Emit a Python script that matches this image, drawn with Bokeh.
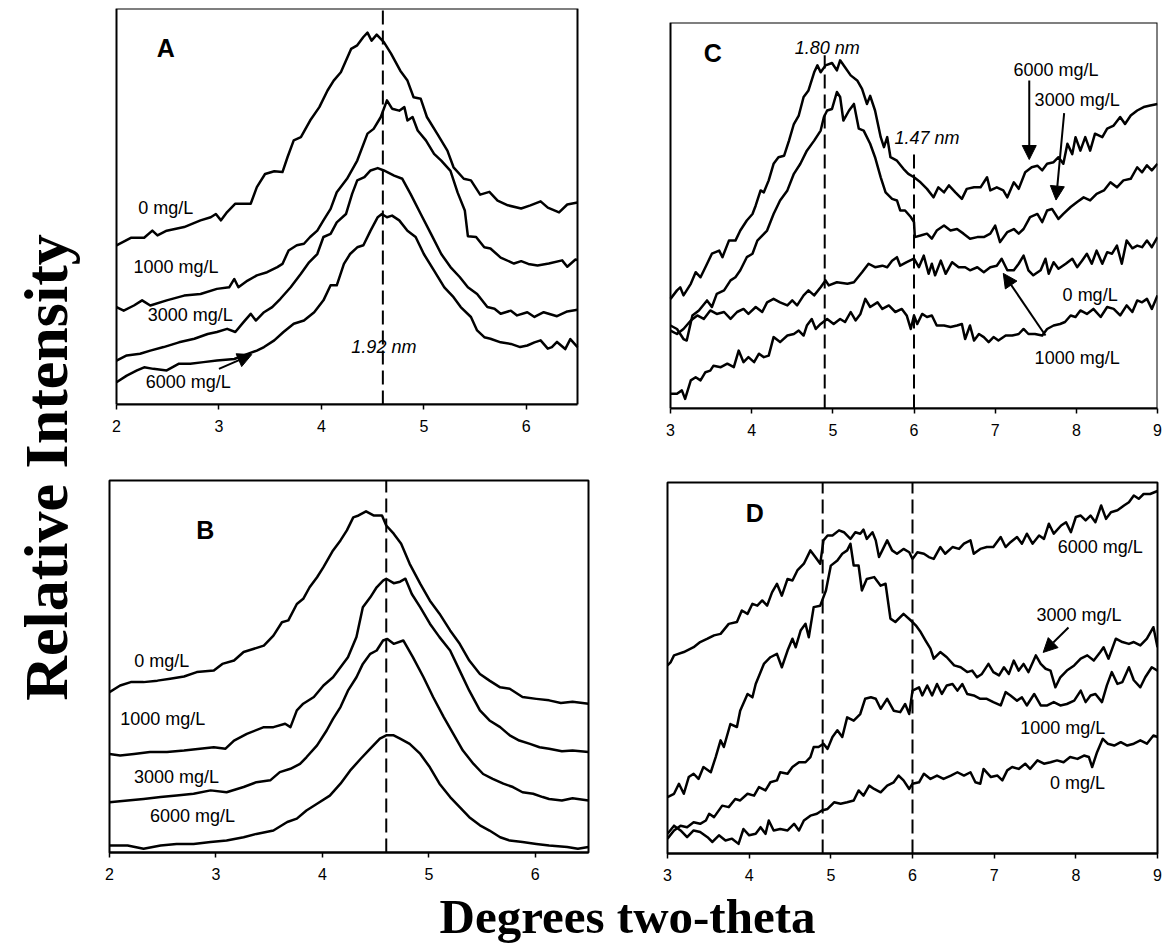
import math
from bokeh.plotting import figure
from bokeh.layouts import row, column
from bokeh.models import Range1d, FixedTicker, Arrow, NormalHead, BoxAnnotation
from bokeh.core.properties import value
from bokeh.embed import file_html
from bokeh.resources import INLINE

# ---------------- data (degrees two-theta, relative intensity 0-100) ----------------
A_0 = [(2.00,40.2),(2.14,42.1),(2.27,42.1),(2.35,43.9),(2.40,42.7),(2.49,43.9),(2.66,44.8),(2.82,46.5),
       (2.92,47.3),(2.97,48.1),(3.02,46.5),(3.08,48.6),(3.16,50.7),(3.31,50.7),(3.37,54.9),(3.45,58.2),
       (3.54,58.9),(3.62,58.7),(3.67,62.5),(3.73,66.7),(3.80,67.5),(3.89,71.7),(3.98,75.1),(4.06,79.3),
       (4.12,81.8),(4.19,83.9),(4.29,89.8),(4.35,90.7),(4.41,92.8),(4.45,93.9),(4.49,91.9),(4.54,93.4),
       (4.61,91.5),(4.68,88.6),(4.77,84.3),(4.84,81.8),(4.90,77.6),(4.97,77.2),(5.03,72.6),(5.13,68.4),
       (5.23,64.1),(5.29,59.9),(5.39,57.0),(5.46,56.6),(5.55,53.0),(5.64,53.7),(5.72,51.5),(5.82,50.3),
       (5.95,49.5),(6.04,50.3),(6.14,51.3),(6.21,49.7),(6.32,48.5),(6.40,50.5),(6.50,51.0)]
A_1000 = [(2.00,24.6),(2.07,23.7),(2.17,25.0),(2.25,26.3),(2.33,25.0),(2.49,26.3),(2.66,27.5),(2.82,27.9),
          (2.98,29.2),(3.10,29.6),(3.15,31.7),(3.19,29.6),(3.28,31.3),(3.37,32.6),(3.47,33.4),(3.57,34.7),
          (3.62,35.5),(3.68,38.9),(3.76,40.2),(3.83,40.6),(3.89,42.3),(3.96,43.9),(4.02,46.5),(4.09,49.4),
          (4.15,53.6),(4.25,57.0),(4.35,61.6),(4.45,68.4),(4.51,69.6),(4.58,72.6),(4.64,76.8),(4.69,74.7),
          (4.76,74.2),(4.81,75.1),(4.84,71.7),(4.89,72.6),(4.94,69.2),(5.02,66.7),(5.10,63.3),(5.17,61.6),
          (5.26,59.0),(5.33,53.5),(5.40,49.0),(5.43,42.5),(5.51,42.3),(5.59,39.7),(5.65,39.4),(5.75,37.1),
          (5.88,35.6),(5.95,36.2),(6.02,35.5),(6.11,35.1),(6.22,35.6),(6.35,36.4),(6.40,34.8),(6.48,36.6),
          (6.50,36.5)]
A_3000 = [(2.00,11.1),(2.10,12.4),(2.23,12.8),(2.33,13.6),(2.46,14.5),(2.61,15.7),(2.76,16.6),(2.89,17.8),
          (2.98,18.3),(3.08,19.1),(3.16,18.3),(3.24,20.8),(3.31,22.9),(3.36,21.2),(3.44,23.3),(3.52,24.6),
          (3.60,26.7),(3.70,29.6),(3.80,33.0),(3.88,35.9),(3.96,38.0),(4.02,42.3),(4.09,43.1),(4.15,46.0),
          (4.24,48.1),(4.30,53.2),(4.35,56.6),(4.42,57.4),(4.48,59.1),(4.55,59.7),(4.61,59.1),(4.71,57.8),
          (4.79,57.0),(4.87,53.2),(4.97,48.1),(5.07,43.1),(5.17,38.0),(5.26,34.7),(5.35,32.2),(5.43,29.6),
          (5.52,27.9),(5.62,24.6),(5.69,24.2),(5.75,22.9),(5.85,23.7),(5.91,22.5),(6.01,23.3),(6.08,22.1),
          (6.17,23.3),(6.30,22.3),(6.40,23.5),(6.50,23.9)]
A_6000 = [(2.00,5.6),(2.10,7.3),(2.20,8.6),(2.27,9.4),(2.36,9.0),(2.49,8.6),(2.61,10.3),(2.72,10.3),
          (2.85,10.7),(2.98,11.1),(3.15,11.5),(3.28,12.8),(3.37,13.6),(3.44,14.5),(3.54,16.2),(3.63,18.3),
          (3.73,20.4),(3.83,21.2),(3.93,23.3),(4.02,26.3),(4.09,30.1),(4.15,30.1),(4.22,35.5),(4.28,38.0),
          (4.35,39.7),(4.41,40.2),(4.48,43.9),(4.55,47.3),(4.59,48.1),(4.64,47.3),(4.69,47.7),(4.76,46.5),
          (4.84,43.9),(4.92,42.3),(5.00,38.0),(5.10,33.8),(5.20,29.6),(5.29,27.1),(5.36,24.6),(5.46,22.1),
          (5.52,18.7),(5.59,17.0),(5.65,16.6),(5.75,15.7),(5.85,15.3),(5.94,14.5),(6.01,14.9),(6.08,15.7),
          (6.14,16.2),(6.21,14.1),(6.25,14.5),(6.30,15.8),(6.38,14.0),(6.43,16.5),(6.50,14.5)]

B_0 = [(2.00,43.1),(2.10,44.9),(2.20,45.8),(2.32,45.8),(2.45,46.2),(2.57,46.7),(2.70,47.3),(2.82,48.5),
       (2.98,48.9),(3.06,50.7),(3.17,51.6),(3.26,53.9),(3.35,54.7),(3.45,55.6),(3.54,58.3),(3.62,61.9),
       (3.68,62.4),(3.76,66.8),(3.82,68.2),(3.88,71.3),(3.95,74.0),(4.01,76.7),(4.10,81.2),(4.17,83.9),
       (4.23,86.6),(4.29,90.1),(4.34,90.6),(4.41,91.7),(4.48,90.6),(4.56,90.6),(4.60,87.9),(4.67,85.7),
       (4.74,83.0),(4.82,77.6),(4.92,72.2),(5.01,67.7),(5.10,64.2),(5.20,59.7),(5.29,56.1),(5.38,51.6),
       (5.48,48.0),(5.57,46.2),(5.67,44.4),(5.76,44.0),(5.88,41.8),(6.01,41.3),(6.13,40.9),(6.24,40.2),
       (6.35,40.5),(6.50,40.0)]
B_1000 = [(2.00,26.5),(2.10,26.1),(2.23,26.5),(2.38,27.0),(2.54,27.0),(2.70,27.4),(2.85,27.9),(2.98,28.3),
          (3.09,27.9),(3.17,30.1),(3.29,31.9),(3.45,33.7),(3.54,33.7),(3.65,34.6),(3.70,33.7),(3.76,38.2),
          (3.82,40.0),(3.92,41.8),(4.01,44.9),(4.10,47.1),(4.17,49.8),(4.24,52.5),(4.32,57.9),(4.38,65.9),
          (4.45,68.6),(4.51,71.3),(4.57,73.1),(4.60,73.6),(4.67,72.4),(4.73,72.8),(4.78,73.6),(4.84,69.5),
          (4.92,65.9),(5.01,61.5),(5.10,57.9),(5.20,54.3),(5.29,48.9),(5.38,43.5),(5.48,38.2),(5.57,35.5),
          (5.67,33.7),(5.76,31.5),(5.85,30.1),(5.95,29.2),(6.04,28.3),(6.13,27.9),(6.25,27.2),(6.35,27.4),
          (6.50,27.0)]
B_3000 = [(2.00,13.5),(2.17,14.0),(2.32,14.4),(2.48,14.9),(2.63,15.3),(2.79,15.8),(2.95,16.7),(3.10,16.2),
          (3.26,17.6),(3.38,18.9),(3.51,19.4),(3.60,21.6),(3.70,22.5),(3.79,23.8),(3.85,25.6),(3.95,28.8),
          (4.04,32.8),(4.10,35.9),(4.17,39.1),(4.24,43.5),(4.32,47.1),(4.38,50.7),(4.45,53.4),(4.51,54.3),
          (4.57,57.0),(4.61,57.4),(4.67,56.1),(4.76,57.0),(4.85,52.5),(4.95,47.1),(5.04,41.8),(5.14,36.4),
          (5.23,31.9),(5.32,27.4),(5.42,23.8),(5.51,21.1),(5.60,19.8),(5.70,18.5),(5.79,17.6),(5.88,16.2),
          (5.98,15.8),(6.07,14.9),(6.13,14.4),(6.25,14.0),(6.35,14.6),(6.50,14.0)]
B_6000 = [(2.00,1.9),(2.17,1.9),(2.32,1.0),(2.48,1.9),(2.63,2.3),(2.79,2.3),(2.95,2.8),(3.10,3.2),
          (3.26,4.1),(3.38,5.0),(3.54,5.9),(3.67,8.2),(3.76,9.1),(3.85,11.3),(3.95,13.1),(4.07,15.3),
          (4.17,18.5),(4.26,22.0),(4.36,25.2),(4.45,27.9),(4.54,30.6),(4.60,31.5),(4.67,31.5),(4.73,30.6),
          (4.82,29.2),(4.92,26.5),(5.01,22.9),(5.10,18.5),(5.20,14.9),(5.29,12.2),(5.38,9.5),(5.48,7.3),
          (5.57,5.9),(5.67,4.1),(5.76,3.2),(5.88,2.8),(6.01,2.3),(6.13,1.9),(6.30,1.5),(6.40,1.0),(6.50,1.5)]

C_6000 = [(3.00,28.4),(3.08,30.6),(3.12,31.4),(3.16,29.3),(3.25,32.3),(3.31,35.3),(3.37,34.0),(3.43,36.6),
          (3.51,40.1),(3.60,40.9),(3.64,39.2),(3.72,43.5),(3.80,43.5),(3.86,46.1),(3.94,48.7),(4.01,50.4),
          (4.05,52.6),(4.11,56.5),(4.15,56.0),(4.21,59.1),(4.27,63.4),(4.33,65.1),(4.40,65.5),(4.46,69.4),
          (4.52,73.7),(4.58,75.9),(4.64,80.7),(4.70,82.4),(4.77,87.1),(4.81,88.9),(4.85,87.1),(4.91,88.9),
          (4.99,89.5),(5.05,87.6),(5.09,90.2),(5.15,88.4),(5.22,86.3),(5.30,85.0),(5.36,82.8),(5.42,78.9),
          (5.46,81.0),(5.52,77.2),(5.59,70.3),(5.63,67.7),(5.67,70.3),(5.71,65.1),(5.79,64.2),(5.87,62.1),
          (5.93,60.8),(6.00,59.9),(6.08,58.6),(6.16,56.9),(6.24,54.7),(6.30,57.3),(6.37,56.0),(6.43,57.8),
          (6.51,56.0),(6.59,54.3),(6.65,56.9),(6.74,57.3),(6.82,57.3),(6.90,59.9),(6.94,56.5),(7.02,57.3),
          (7.10,56.5),(7.15,54.7),(7.23,58.6),(7.29,56.9),(7.37,61.2),(7.45,62.5),(7.52,62.9),(7.58,61.7),
          (7.64,63.4),(7.72,63.8),(7.78,65.1),(7.84,63.4),(7.89,68.6),(7.95,65.9),(7.99,70.3),(8.05,66.8),
          (8.11,70.3),(8.17,66.8),(8.23,71.2),(8.32,70.3),(8.38,72.5),(8.46,73.3),(8.54,75.5),(8.60,73.7),
          (8.67,75.9),(8.75,77.2),(8.83,78.1),(8.91,78.5),(9.00,78.9)]
C_3000 = [(3.00,21.5),(3.08,20.6),(3.16,18.0),(3.20,17.6),(3.27,24.1),(3.35,25.4),(3.45,28.0),(3.51,26.3),
          (3.57,29.7),(3.66,30.6),(3.74,33.2),(3.80,34.0),(3.86,35.8),(3.94,39.2),(4.01,40.1),(4.07,43.5),
          (4.13,44.8),(4.19,46.1),(4.27,50.4),(4.35,53.9),(4.44,56.5),(4.52,60.8),(4.60,63.4),(4.68,66.8),
          (4.77,69.4),(4.85,72.0),(4.89,75.5),(4.93,77.2),(4.99,77.6),(5.05,82.0),(5.09,80.7),(5.13,74.6),
          (5.20,77.2),(5.26,78.9),(5.32,72.5),(5.38,72.0),(5.46,68.6),(5.52,65.1),(5.59,59.9),(5.65,56.0),
          (5.73,54.3),(5.79,53.9),(5.83,51.3),(5.89,51.3),(5.96,49.6),(6.00,48.3),(6.01,44.4),(6.08,44.8),
          (6.16,45.3),(6.22,44.0),(6.28,46.1),(6.37,47.4),(6.45,46.1),(6.53,46.5),(6.61,45.3),(6.69,44.0),
          (6.78,44.4),(6.86,44.4),(6.94,45.3),(7.00,47.4),(7.06,43.1),(7.15,45.7),(7.23,46.5),(7.29,45.3),
          (7.35,46.5),(7.43,49.6),(7.52,50.4),(7.58,48.3),(7.64,51.3),(7.70,51.7),(7.78,49.1),(7.84,50.4),
          (7.93,52.2),(8.01,53.5),(8.09,54.7),(8.17,53.9),(8.25,55.6),(8.34,56.5),(8.42,58.6),(8.50,57.3),
          (8.58,59.1),(8.67,59.5),(8.75,62.5),(8.81,61.2),(8.87,63.0),(8.93,61.7),(9.00,63.4)]
C_0 = [(3.00,20.2),(3.08,19.3),(3.16,20.6),(3.25,22.8),(3.33,24.1),(3.41,23.2),(3.49,25.4),(3.57,24.5),
       (3.66,25.0),(3.74,23.2),(3.82,25.0),(3.90,25.8),(3.96,24.5),(4.05,26.3),(4.13,25.0),(4.19,27.5),
       (4.27,28.4),(4.35,27.5),(4.44,26.7),(4.50,28.0),(4.56,26.7),(4.64,29.3),(4.70,30.6),(4.77,29.3),
       (4.85,31.4),(4.91,33.2),(4.95,31.9),(5.05,32.7),(5.18,32.3),(5.26,32.7),(5.36,35.3),(5.44,37.5),
       (5.52,36.6),(5.61,37.0),(5.67,36.6),(5.73,38.3),(5.79,39.2),(5.83,37.0),(5.91,37.9),(6.00,38.8),
       (6.06,36.6),(6.12,39.6),(6.18,34.9),(6.22,37.5),(6.26,34.5),(6.33,38.3),(6.39,34.9),(6.47,37.9),
       (6.55,36.6),(6.63,36.6),(6.69,35.8),(6.78,36.6),(6.86,35.3),(6.94,36.6),(7.02,37.0),(7.08,38.8),
       (7.15,35.8),(7.23,35.8),(7.29,37.5),(7.35,39.6),(7.41,35.8),(7.47,34.5),(7.56,35.8),(7.62,38.8),
       (7.66,34.9),(7.72,37.9),(7.78,36.2),(7.87,37.5),(7.95,38.8),(8.01,36.6),(8.07,38.3),(8.13,40.1),
       (8.19,37.5),(8.25,40.9),(8.32,37.5),(8.38,40.5),(8.44,40.1),(8.50,42.2),(8.56,37.5),(8.62,43.5),
       (8.69,41.5),(8.75,42.2),(8.81,41.8),(8.87,43.5),(8.93,41.8),(9.00,44.4)]
C_1000 = [(3.00,3.8),(3.08,3.8),(3.14,4.7),(3.18,2.5),(3.25,7.3),(3.31,8.1),(3.37,7.3),(3.43,9.4),
          (3.49,9.8),(3.53,11.1),(3.62,10.7),(3.70,11.6),(3.78,10.7),(3.84,15.0),(3.90,12.0),(3.96,13.3),
          (4.03,12.0),(4.09,14.2),(4.15,13.3),(4.21,13.7),(4.27,18.5),(4.35,17.2),(4.44,18.9),(4.52,19.3),
          (4.58,20.2),(4.64,18.9),(4.68,21.5),(4.74,23.2),(4.79,20.6),(4.85,21.9),(4.93,23.2),(5.01,21.9),
          (5.09,23.2),(5.15,22.4),(5.22,25.0),(5.28,22.8),(5.34,24.5),(5.40,28.4),(5.46,26.3),(5.55,27.5),
          (5.61,25.8),(5.69,26.7),(5.77,25.0),(5.85,25.8),(5.91,24.1),(5.96,20.6),(6.00,24.1),(6.04,21.9),
          (6.10,24.5),(6.16,23.7),(6.22,24.1),(6.28,21.5),(6.37,21.5),(6.45,21.1),(6.53,21.5),(6.59,21.9),
          (6.63,18.0),(6.69,21.5),(6.74,17.6),(6.80,19.3),(6.86,18.5),(6.92,17.2),(6.98,18.5),(7.04,17.6),
          (7.13,18.9),(7.21,18.9),(7.29,19.3),(7.35,20.6),(7.41,19.3),(7.49,19.3),(7.58,18.9),(7.64,20.6),
          (7.72,21.5),(7.80,21.9),(7.86,22.4),(7.93,24.1),(7.99,23.7),(8.05,25.4),(8.13,24.5),(8.21,25.8),
          (8.30,23.7),(8.38,26.3),(8.46,25.8),(8.54,24.1),(8.62,26.7),(8.69,25.0),(8.75,28.0),(8.81,27.5),
          (8.87,28.4),(8.93,25.8),(9.00,29.3)]

D_6000 = [(3.00,50.7),(3.04,51.6),(3.08,53.4),(3.20,54.3),(3.32,55.6),(3.40,57.0),(3.49,57.9),(3.57,58.8),
          (3.65,59.2),(3.75,61.9),(3.85,62.4),(3.91,65.5),(3.98,64.6),(4.04,67.3),(4.10,66.8),(4.16,68.2),
          (4.22,66.8),(4.28,70.4),(4.34,72.7),(4.40,69.5),(4.47,74.0),(4.53,73.6),(4.59,76.3),(4.67,78.1),
          (4.75,81.7),(4.81,79.9),(4.87,78.1),(4.91,84.4),(4.96,85.7),(5.02,85.7),(5.10,87.1),(5.16,86.6),
          (5.24,84.8),(5.30,86.6),(5.36,86.2),(5.40,87.3),(5.44,84.8),(5.51,86.6),(5.55,84.4),(5.59,79.9),
          (5.63,81.7),(5.69,84.4),(5.75,81.7),(5.81,80.8),(5.89,82.1),(5.96,81.2),(6.00,79.4),(6.06,81.2),
          (6.14,80.8),(6.20,79.9),(6.26,79.4),(6.34,82.6),(6.40,80.8),(6.49,82.6),(6.57,82.1),(6.63,83.5),
          (6.71,84.4),(6.75,80.8),(6.83,82.1),(6.91,82.6),(6.99,82.6),(7.08,85.3),(7.14,82.6),(7.20,83.9),
          (7.28,85.3),(7.34,83.5),(7.40,86.2),(7.47,83.5),(7.55,85.7),(7.61,84.8),(7.67,88.9),(7.73,86.2),
          (7.82,88.4),(7.88,89.3),(7.94,86.6),(8.00,90.7),(8.06,91.1),(8.12,89.8),(8.18,91.1),(8.24,89.3),
          (8.31,93.8),(8.37,90.2),(8.43,92.0),(8.51,92.5),(8.59,93.8),(8.65,94.7),(8.71,96.5),(8.77,95.6),
          (8.83,96.9),(8.91,96.9),(9.00,97.7)]
D_3000 = [(3.00,15.2),(3.08,16.1),(3.14,18.8),(3.20,16.1),(3.26,20.6),(3.32,21.5),(3.38,20.1),(3.44,23.3),
          (3.53,21.9),(3.59,26.0),(3.65,30.5),(3.69,28.7),(3.77,34.9),(3.85,34.1),(3.89,38.5),(3.98,43.0),
          (4.04,42.1),(4.08,45.7),(4.18,51.1),(4.26,52.9),(4.34,53.8),(4.40,50.2),(4.47,54.7),(4.53,57.9),
          (4.57,55.6),(4.63,60.1),(4.69,61.9),(4.73,58.3),(4.79,66.4),(4.87,66.8),(4.94,70.9),(5.00,77.6),
          (5.08,79.0),(5.14,80.8),(5.20,81.7),(5.24,83.5),(5.28,77.6),(5.34,77.6),(5.38,70.9),(5.44,74.0),
          (5.53,74.5),(5.61,72.2),(5.67,72.7),(5.73,63.3),(5.79,62.4),(5.89,64.6),(5.98,62.8),(6.04,61.5),
          (6.10,59.7),(6.16,57.4),(6.22,55.2),(6.26,52.5),(6.34,54.3),(6.42,52.9),(6.51,50.7),(6.59,50.2),
          (6.67,48.9),(6.73,49.3),(6.79,47.5),(6.85,48.4),(6.93,51.1),(6.99,48.9),(7.06,48.0),(7.12,50.2),
          (7.18,48.4),(7.24,52.0),(7.30,49.3),(7.36,51.1),(7.42,48.9),(7.51,53.4),(7.57,51.1),(7.63,49.8),
          (7.69,49.3),(7.75,44.8),(7.81,47.5),(7.89,49.3),(7.98,50.7),(8.06,52.5),(8.14,53.4),(8.22,52.0),
          (8.30,54.3),(8.34,55.6),(8.40,52.5),(8.49,57.9),(8.57,57.0),(8.65,56.5),(8.71,57.0),(8.79,56.1),
          (8.87,57.9),(8.95,61.0),(9.00,55.6)]
D_1000 = [(3.00,4.0),(3.08,6.2),(3.16,7.5),(3.24,7.1),(3.32,8.4),(3.40,8.0),(3.47,8.9),(3.51,10.7),
          (3.57,9.8),(3.67,12.9),(3.75,12.5),(3.83,14.7),(3.89,14.3),(3.98,16.1),(4.06,15.6),(4.12,17.9),
          (4.20,17.0),(4.26,19.2),(4.34,19.7),(4.38,21.9),(4.47,21.5),(4.53,23.3),(4.61,24.6),(4.69,24.6),
          (4.75,26.0),(4.79,28.7),(4.85,28.7),(4.91,29.6),(4.96,28.2),(5.02,31.4),(5.08,33.2),(5.14,31.4),
          (5.20,36.7),(5.28,35.8),(5.36,37.6),(5.42,41.7),(5.49,42.1),(5.55,41.7),(5.61,39.0),(5.69,41.7),
          (5.77,38.5),(5.85,38.1),(5.91,40.3),(5.96,37.6),(6.00,43.9),(6.08,44.8),(6.12,42.6),(6.18,45.3),
          (6.24,42.6),(6.30,45.7),(6.36,43.0),(6.42,45.3),(6.49,45.7),(6.55,43.9),(6.61,45.7),(6.67,43.0),
          (6.75,42.6),(6.83,41.7),(6.91,41.7),(6.99,40.8),(7.08,39.9),(7.14,43.5),(7.20,42.6),(7.28,41.2),
          (7.34,42.1),(7.40,39.9),(7.49,43.0),(7.57,39.9),(7.65,39.9),(7.73,40.8),(7.81,39.9),(7.89,40.3),
          (7.98,41.2),(8.06,43.9),(8.12,40.8),(8.18,42.6),(8.24,43.0),(8.32,40.8),(8.38,45.3),(8.44,48.9),
          (8.51,45.7),(8.57,46.2),(8.65,50.2),(8.71,46.7),(8.79,44.8),(8.85,47.5),(8.93,50.2),(9.00,49.3)]
D_0 = [(3.00,5.3),(3.08,7.5),(3.16,6.2),(3.24,4.4),(3.32,6.2),(3.40,5.8),(3.49,4.4),(3.55,3.1),
       (3.63,4.9),(3.71,3.5),(3.79,4.0),(3.87,2.6),(3.93,6.6),(4.00,4.9),(4.08,5.3),(4.14,7.1),
       (4.20,5.3),(4.24,8.9),(4.30,6.2),(4.38,6.6),(4.47,6.2),(4.55,8.0),(4.61,6.2),(4.67,8.9),
       (4.75,10.2),(4.83,10.7),(4.89,11.6),(4.96,12.0),(5.04,13.8),(5.12,13.4),(5.20,13.8),(5.28,14.3),
       (5.34,17.0),(5.40,15.6),(5.47,18.3),(5.53,17.4),(5.61,16.5),(5.69,18.3),(5.77,19.2),(5.83,21.0),
       (5.89,19.7),(5.96,17.4),(6.00,18.8),(6.08,19.2),(6.14,21.5),(6.22,20.1),(6.30,21.0),(6.38,20.1),
       (6.47,21.0),(6.55,21.9),(6.63,21.0),(6.71,21.9),(6.77,19.2),(6.83,18.8),(6.87,22.8),(6.96,20.6),
       (7.04,21.0),(7.10,19.7),(7.16,22.4),(7.22,23.3),(7.30,22.8),(7.38,24.2),(7.44,22.8),(7.53,25.1),
       (7.61,24.2),(7.69,24.6),(7.77,25.1),(7.85,24.6),(7.93,26.0),(8.02,25.5),(8.10,26.4),(8.16,26.0),
       (8.20,23.3),(8.26,27.3),(8.33,30.9),(8.39,29.6),(8.47,29.1),(8.55,30.0),(8.63,29.1),(8.71,29.6),
       (8.79,30.5),(8.87,29.6),(8.95,31.8),(9.00,31.4)]

# tick labels / axis extents
AB_TICKS = [2, 3, 4, 5, 6]
CD_TICKS = [3, 4, 5, 6, 7, 8, 9]
AB_BOUNDS = (2, 6.5)
CD_BOUNDS = (3, 9)

# reference lines (d-spacings)
A_DASH_X = [4.6]
B_DASH_X = [4.6]
C_DASH_X = [4.9, 6.0]
C_DASH_TOP = [91.5, 66.0]
D_DASH_X = [4.9, 6.0]

# annotations: text, x, y
A_LABELS = (["0 mg/L", "1000 mg/L", "3000 mg/L", "6000 mg/L", "1.92 nm"],
            [2.48, 2.58, 2.72, 2.70, 4.61], [49.5, 34.6, 22.5, 5.6, 14.4])
B_LABELS = (["0 mg/L", "1000 mg/L", "3000 mg/L", "6000 mg/L"],
            [2.49, 2.50, 2.63, 2.78], [51.6, 36.0, 20.2, 9.9])
C_LABELS = (["1.80 nm", "1.47 nm", "6000 mg/L", "3000 mg/L", "0 mg/L", "1000 mg/L"],
            [4.93, 6.16, 7.75, 8.01, 8.17, 8.01], [93.5, 70.2, 87.6, 79.8, 29.3, 13.0])
D_LABELS = (["6000 mg/L", "3000 mg/L", "1000 mg/L", "0 mg/L"],
            [8.30, 8.04, 7.84, 8.02], [82.5, 64.2, 33.7, 19.1])
PANEL_LETTERS = {"A": (2.48, 89.9), "B": (2.90, 86.6), "C": (3.52, 92.0), "D": (4.07, 91.9)}

# arrows: (x_start, y_start, x_end, y_end)
A_ARROWS = [(3.00, 9.0, 3.32, 12.6)]
C_ARROWS = [(7.42, 85.0, 7.42, 64.5), (7.85, 76.5, 7.75, 54.0), (7.62, 18.9, 7.10, 35.0)]
D_ARROWS = [(7.91, 60.9, 7.60, 54.2)]

LINE_W = 2.5
DASH = "14 6"


# ---------------- layout geometry (pixels) ----------------
def span_range(bounds, box_px, frame_px):
    lo, hi = bounds
    scale = (box_px[1] - box_px[0]) / (hi - lo)
    return Range1d(lo - (box_px[0] - frame_px[0]) / scale, hi + (frame_px[1] - box_px[1]) / scale)


def panel(xrange, ticks, bounds, w, h, mbl, mbr, mbt, mbb, outline):
    p = figure(width=w, height=h, x_range=xrange, y_range=Range1d(0, 100),
               output_backend="svg", toolbar_location=None, y_axis_location=None,
               min_border_left=mbl, min_border_right=mbr, min_border_top=mbt, min_border_bottom=mbb)
    p.grid.visible = False
    p.background_fill_color = "white"
    p.border_fill_color = "white"
    if outline:
        p.outline_line_color = "black"
        p.outline_line_width = 2
        p.outline_line_alpha = 1.0
    else:
        p.outline_line_color = None
        p.add_layout(BoxAnnotation(left=bounds[0], right=bounds[1], bottom=0, top=100,
                                   fill_alpha=0, fill_color=None, line_color="black",
                                   line_alpha=1.0, line_width=2))
    ax = p.xaxis[0]
    ax.ticker = FixedTicker(ticks=ticks)
    ax.bounds = bounds
    ax.axis_line_width = 2
    ax.axis_line_color = "black"
    ax.major_tick_in = 0
    ax.major_tick_out = 5
    ax.major_tick_line_width = 1.5
    ax.major_tick_line_color = "black"
    ax.minor_tick_line_color = None
    ax.major_label_text_font = "Liberation Sans"
    ax.major_label_text_font_size = "16px"
    ax.major_label_text_color = "black"
    ax.major_label_standoff = 10
    return p


def split_labels(labels):
    t, x, y = labels
    plain = ([], [], [])
    ital = ([], [], [])
    for ti, xi, yi in zip(t, x, y):
        tgt = ital if ti.endswith("nm") else plain
        tgt[0].append(ti); tgt[1].append(xi); tgt[2].append(yi)
    return plain, ital


def draw(p, curves, labels, letter, arrows):
    for c in curves:
        xs, ys = zip(*c)
        p.line(list(xs), list(ys), line_color="black", line_width=LINE_W, line_join="round")
    plain, ital = split_labels(labels)
    p.text(x=plain[1], y=plain[2], text=plain[0], text_font=value("Liberation Sans"),
           text_font_size="18px", text_align="center", text_baseline="middle", text_color="black")
    if ital[0]:
        p.text(x=ital[1], y=ital[2], text=ital[0], text_font=value("Liberation Sans"),
               text_font_size="18px", text_font_style="italic", text_align="center",
               text_baseline="middle", text_color="black")
    lx, ly = PANEL_LETTERS[letter]
    p.text(x=[lx], y=[ly], text=[letter], text_font=value("Liberation Sans"), text_font_size="25px",
           text_font_style="bold", text_align="center", text_baseline="middle", text_color="black")
    for (x0, y0, x1, y1) in arrows:
        p.add_layout(Arrow(end=NormalHead(size=14, fill_color="black", line_color="black"),
                           x_start=x0, y_start=y0, x_end=x1, y_end=y1,
                           line_color="black", line_width=2))


# Panel A  (box x 116-577, y 8-404) inside frame x 109-588
pA = panel(span_range(AB_BOUNDS, (116, 577), (109, 588)), AB_TICKS, AB_BOUNDS, 558, 468, 19, 60, 8, 64, False)
pA.segment(x0=A_DASH_X, y0=[0], x1=A_DASH_X, y1=[100], line_color="black", line_width=2, line_dash=DASH)
# Panel B  (box x 109-588, y 480-852)
pB = panel(Range1d(*AB_BOUNDS), AB_TICKS, AB_BOUNDS, 558, 420, 19, 60, 12, 36, True)
pB.segment(x0=B_DASH_X, y0=[0], x1=B_DASH_X, y1=[100], line_color="black", line_width=2, line_dash=DASH)
# Panel C  (box x 670-1157, y 22-408) inside frame x 667-1157
pC = panel(span_range(CD_BOUNDS, (670, 1157), (667, 1157)), CD_TICKS, CD_BOUNDS, 519, 468, 19, 10, 22, 60, False)
pC.segment(x0=C_DASH_X, y0=[0, 0], x1=C_DASH_X, y1=C_DASH_TOP, line_color="black", line_width=2, line_dash=DASH)
# Panel D  (box x 667-1157, y 482-853)
pD = panel(Range1d(*CD_BOUNDS), CD_TICKS, CD_BOUNDS, 519, 420, 19, 10, 14, 35, True)
pD.segment(x0=D_DASH_X, y0=[0, 0], x1=D_DASH_X, y1=[100, 100], line_color="black", line_width=2, line_dash=DASH)

draw(pA, [A_0, A_1000, A_3000, A_6000], A_LABELS, "A", A_ARROWS)
draw(pB, [B_0, B_1000, B_3000, B_6000], B_LABELS, "B", [])
draw(pC, [C_6000, C_3000, C_0, C_1000], C_LABELS, "C", C_ARROWS)
draw(pD, [D_6000, D_3000, D_1000, D_0], D_LABELS, "D", D_ARROWS)


def blank(w, h, xr, yr):
    f = figure(width=w, height=h, x_range=Range1d(*xr), y_range=Range1d(*yr),
               output_backend="svg", toolbar_location=None, x_axis_location=None, y_axis_location=None,
               min_border=0, min_border_left=0, min_border_right=0, min_border_top=0, min_border_bottom=0)
    f.grid.visible = False
    f.outline_line_color = None
    f.background_fill_color = "white"
    f.border_fill_color = "white"
    return f

# y label column: x 0-90, y 0-888
ylab = blank(90, 888, (0, 90), (0, 888))
ylab.text(x=[45], y=[421], text=["Relative Intensity"], angle=math.pi / 2,
          text_font=value("Liberation Serif"), text_font_size="62px", text_font_style="bold",
          text_align="center", text_baseline="middle", text_color="black")

# x label strip: y 888-947
xlab = blank(1167, 59, (0, 1167), (0, 59))
xlab.text(x=[627], y=[31], text=["Degrees two-theta"],
          text_font=value("Liberation Serif"), text_font_size="49px", text_font_style="bold",
          text_align="center", text_baseline="alphabetic", text_color="black")

layout = column(row(ylab, column(pA, pB), column(pC, pD)), xlab)

open("out.html", "w").write(file_html(layout, INLINE))
